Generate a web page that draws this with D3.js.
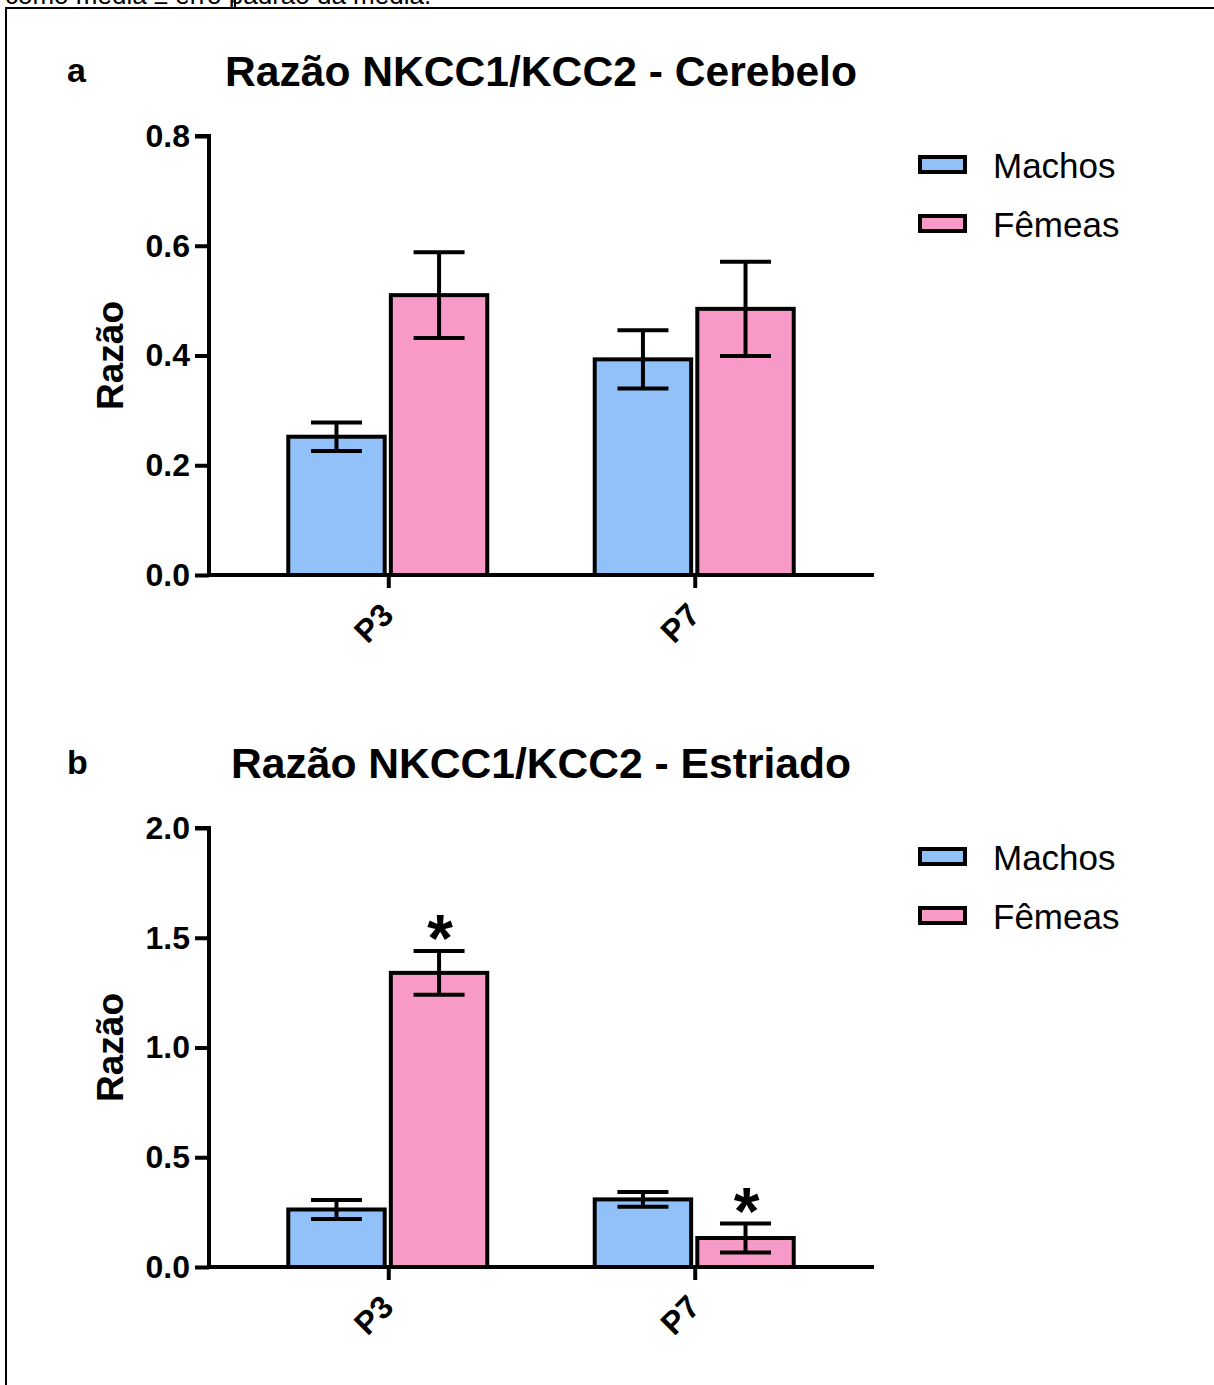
<!DOCTYPE html>
<html lang="pt">
<head>
  <meta charset="UTF-8" />
  <title>Razão NKCC1/KCC2</title>
  <script src="https://d3js.org/d3.v7.min.js"></script>
  <style>
    body {
      margin: 0;
      background: #fff;
      overflow: hidden;
    }
    svg {
      display: block;
      font-family: 'Liberation Sans', Arial, sans-serif;
    }
  </style>
</head>
<body>
  <svg id="chart"></svg>

  <script>
    // data (mean and standard error)
    const timepoints = ["P3", "P7"];
    const groups = ["Machos", "Fêmeas"];
    const groupColors = ["#92c0f8", "#f89ac8"];

    const cerebeloMachos = [0.252, 0.393];
    const cerebeloMachosSem = [0.026, 0.053];
    const cerebeloFemeas = [0.510, 0.485];
    const cerebeloFemeasSem = [0.078, 0.086];
    const cerebeloTicks = [0, 0.2, 0.4, 0.6, 0.8];

    const estriadoMachos = [0.262, 0.308];
    const estriadoMachosSem = [0.043, 0.034];
    const estriadoFemeas = [1.34, 0.132];
    const estriadoFemeasSem = [0.10, 0.066];
    const estriadoTicks = [0, 0.5, 1.0, 1.5, 2.0];
    const estriadoStars = [[false, true], [false, true]]; // [P3, P7] x [Machos, Fêmeas]

    const W = 1214, H = 1385;
    const svg = d3.select("#chart").attr("width", W).attr("height", H);

    // caption fragment and table border at the top of the page
    svg.append("text")
      .attr("x", 5)
      .attr("y", 4)
      .attr("font-size", 26)
      .text("como média ± erro padrão da média.");

    svg.append("line").attr("x1", 6).attr("x2", W).attr("y1", 8).attr("y2", 8)
      .attr("stroke", "#000").attr("stroke-width", 2);
    svg.append("line").attr("x1", 6).attr("x2", 6).attr("y1", 7).attr("y2", H)
      .attr("stroke", "#000").attr("stroke-width", 2);
    svg.append("line").attr("x1", 235).attr("x2", 235).attr("y1", 0).attr("y2", 8)
      .attr("stroke", "#000").attr("stroke-width", 2);

    const x = d3.scalePoint()
      .domain(timepoints)
      .range([209, 874])
      .padding(0.585);

    const xSub = d3.scaleBand()
      .domain(groups)
      .range([-100, 99])
      .paddingInner(0.06);

    function drawPanel(offsetY, label, title, ticks, machos, machosSem, femeas, femeasSem, stars) {
      const g = svg.append("g").attr("transform", `translate(0,${offsetY})`);

      const y = d3.scaleLinear()
        .domain([0, d3.max(ticks)])
        .range([575, 136]);

      g.append("text")
        .attr("x", 67)
        .attr("y", 82)
        .attr("font-size", 34)
        .attr("font-weight", "bold")
        .text(label);

      g.append("text")
        .attr("x", 541)
        .attr("y", 86)
        .attr("text-anchor", "middle")
        .attr("font-size", 42.6)
        .attr("font-weight", "bold")
        .text(title);

      g.append("text")
        .attr("transform", `translate(123,${(y(0) + y(d3.max(ticks))) / 2}) rotate(-90)`)
        .attr("text-anchor", "middle")
        .attr("font-size", 37)
        .attr("font-weight", "bold")
        .text("Razão");

      const rows = timepoints.map((t, i) => ({
        t: t,
        vals: [
          { g: groups[0], mean: machos[i], sem: machosSem[i], star: stars ? stars[i][0] : false, color: groupColors[0] },
          { g: groups[1], mean: femeas[i], sem: femeasSem[i], star: stars ? stars[i][1] : false, color: groupColors[1] }
        ]
      }));

      const cat = g.selectAll(".cat")
        .data(rows)
        .join("g")
        .attr("class", "cat")
        .attr("transform", d => `translate(${x(d.t)},0)`);

      cat.selectAll("rect")
        .data(d => d.vals)
        .join("rect")
        .attr("x", d => xSub(d.g))
        .attr("y", d => y(d.mean))
        .attr("width", xSub.bandwidth())
        .attr("height", d => y(0) - y(d.mean))
        .attr("fill", d => d.color)
        .attr("stroke", "#000")
        .attr("stroke-width", 4);

      const err = cat.selectAll(".err")
        .data(d => d.vals)
        .join("g")
        .attr("class", "err")
        .attr("transform", d => `translate(${xSub(d.g) + xSub.bandwidth() / 2},0)`);

      err.append("line")
        .attr("y1", d => y(d.mean - d.sem))
        .attr("y2", d => y(d.mean + d.sem))
        .attr("stroke", "#000").attr("stroke-width", 4);

      [-1, 1].forEach(s => {
        err.append("line")
          .attr("x1", -25.5).attr("x2", 25.5)
          .attr("y1", d => y(d.mean + s * d.sem))
          .attr("y2", d => y(d.mean + s * d.sem))
          .attr("stroke", "#000").attr("stroke-width", 4);
      });

      err.filter(d => d.star)
        .append("text")
        .attr("x", 1)
        .attr("y", d => y(d.mean + d.sem) + 10)
        .attr("text-anchor", "middle")
        .attr("font-size", 66)
        .attr("font-weight", "bold")
        .text("*");

      // axes
      const yAxis = g.append("g")
        .attr("transform", "translate(209,0)")
        .call(d3.axisLeft(y).tickValues(ticks).tickFormat(d3.format(".1f")).tickSize(14).tickPadding(5));

      const xAxis = g.append("g")
        .attr("transform", `translate(0,${y(0)})`)
        .call(d3.axisBottom(x).tickSize(13).tickFormat(""));

      [yAxis, xAxis].forEach(a => {
        a.select(".domain").attr("stroke-width", 4);
        a.selectAll(".tick line").attr("stroke-width", 4);
      });
      yAxis.select(".domain").attr("d", `M-14,${y(d3.max(ticks))}H0V${y(0)}`);
      xAxis.select(".domain").attr("d", "M207,0H874");
      yAxis.selectAll(".tick text")
        .attr("font-size", 32)
        .attr("font-weight", "bold")
        .attr("font-family", "'Liberation Sans', Arial, sans-serif")
        .attr("fill", "#000");

      g.selectAll(".xlab")
        .data(timepoints)
        .join("text")
        .attr("class", "xlab")
        .attr("transform", d => `translate(${x(d) + 7},${y(0) + 42}) rotate(-45)`)
        .attr("text-anchor", "end")
        .attr("font-size", 32)
        .attr("font-weight", "bold")
        .text(d => d);

      // legend
      const leg = g.selectAll(".leg")
        .data(groups)
        .join("g")
        .attr("class", "leg")
        .attr("transform", (d, i) => `translate(920,${157 + i * 59})`);

      leg.append("rect")
        .attr("width", 45)
        .attr("height", 15)
        .attr("fill", (d, i) => groupColors[i])
        .attr("stroke", "#000")
        .attr("stroke-width", 4);

      leg.append("text")
        .attr("x", 73)
        .attr("y", 21)
        .attr("font-size", 35)
        .text(d => d);
    }

    drawPanel(0, "a", "Razão NKCC1/KCC2 - Cerebelo", cerebeloTicks,
      cerebeloMachos, cerebeloMachosSem, cerebeloFemeas, cerebeloFemeasSem, null);
    drawPanel(692, "b", "Razão NKCC1/KCC2 - Estriado", estriadoTicks,
      estriadoMachos, estriadoMachosSem, estriadoFemeas, estriadoFemeasSem, estriadoStars);
  </script>
</body>
</html>
